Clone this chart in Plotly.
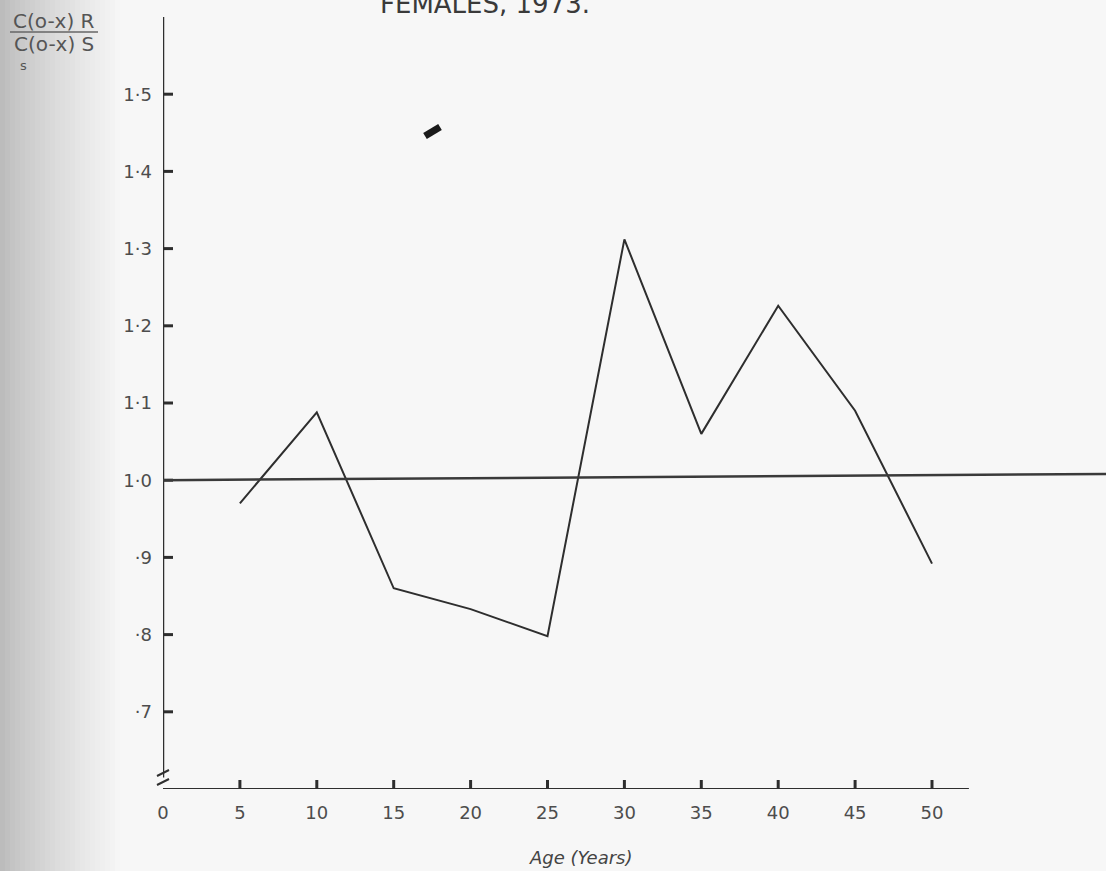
import plotly.graph_objects as go

# ---- data ----
ages = [5, 10, 15, 20, 25, 30, 35, 40, 45, 50]
ratio = [0.970, 1.088, 0.860, 0.833, 0.798, 1.312, 1.060, 1.226, 1.090, 0.892]

x_ticks = [0, 5, 10, 15, 20, 25, 30, 35, 40, 45, 50]
x_tick_labels = ["0", "5", "10", "15", "20", "25", "30", "35", "40", "45", "50"]
y_ticks = [0.7, 0.8, 0.9, 1.0, 1.1, 1.2, 1.3, 1.4, 1.5]
y_tick_labels = ["·7", "·8", "·9", "1·0", "1·1", "1·2", "1·3", "1·4", "1·5"]

reference_level = 1.0

W, H = 1106, 871
L, R, T, B = 163, 0, 17, 82
PW, PH = W - L - R, H - T - B
X_MAX = PW / (769 / 50)
Y_MIN, Y_MAX = 0.6, 1.6

def px(xp):
    return (xp - L) / PW

def py(yp):
    return (H - B - yp) / PH

INK = "#2e2e2e"
TXT = "#4d4d4d"
FONT = "DejaVu Sans"

fig = go.Figure()

# tick marks (inside-pointing), drawn from the tick arrays through the axes
xt_len = 9 / PH * (Y_MAX - Y_MIN)
yt_len = 10 / PW * X_MAX
tx, ty = [], []
for v in x_ticks[1:]:
    tx += [v, v, None]
    ty += [Y_MIN, Y_MIN + xt_len, None]
for v in y_ticks:
    tx += [0, yt_len, None]
    ty += [v, v, None]
fig.add_trace(go.Scatter(x=tx, y=ty, mode="lines", line=dict(color=INK, width=3),
                         connectgaps=False, showlegend=False, hoverinfo="skip",
                         cliponaxis=False))

fig.add_trace(go.Scatter(
    x=ages, y=ratio, mode="lines",
    line=dict(color=INK, width=2),
    showlegend=False, hoverinfo="skip",
))

shapes = []
# left scanner shading
n = 24
for i in range(n):
    x0 = i * 5
    g = int(188 + (246 - 188) * (i / (n - 1)) ** 0.8)
    shapes.append(dict(type="rect", xref="paper", yref="paper",
                       x0=px(x0), x1=px(x0 + 5), y0=py(H), y1=py(0),
                       fillcolor=f"rgb({g},{g},{g})", line=dict(width=0), layer="below"))

# y axis line (with break at the bottom)
shapes.append(dict(type="line", xref="x", yref="y", x0=0, x1=0, y0=Y_MAX, y1=0.615,
                   line=dict(color=INK, width=2.5)))
# break marks
shapes.append(dict(type="line", xref="paper", yref="paper",
                   x0=px(157), x1=px(169), y0=py(776), y1=py(770),
                   line=dict(color=INK, width=2)))
shapes.append(dict(type="line", xref="paper", yref="paper",
                   x0=px(157), x1=px(169), y0=py(785), y1=py(779),
                   line=dict(color=INK, width=2)))
# x axis line
shapes.append(dict(type="line", xref="x", yref="y", x0=0, x1=52.4, y0=Y_MIN, y1=Y_MIN,
                   line=dict(color=INK, width=2)))
# reference line at 1.0
shapes.append(dict(type="line", xref="x", yref="y", x0=0, x1=X_MAX,
                   y0=reference_level, y1=reference_level + 0.008,
                   line=dict(color="#3a3a3a", width=2.5)))
# fraction bar of y label
shapes.append(dict(type="line", xref="paper", yref="paper",
                   x0=px(10), x1=px(98), y0=py(32), y1=py(32),
                   line=dict(color="#666666", width=1.5)))
# ink blot
shapes.append(dict(type="line", xref="paper", yref="paper",
                   x0=px(425), x1=px(440), y0=py(136), y1=py(127),
                   line=dict(color="#1a1a1a", width=7)))

annotations = [
    dict(text="FEMALES, 1973.", xref="paper", yref="paper", x=px(485), y=py(4),
         showarrow=False, xanchor="center", yanchor="middle",
         font=dict(family=FONT, size=26, color="#3a3a3a")),
    dict(text="C(o-x) R", xref="paper", yref="paper", x=px(54), y=py(21),
         showarrow=False, xanchor="center", yanchor="middle",
         font=dict(family=FONT, size=20, color="#555555")),
    dict(text="C(o-x) S", xref="paper", yref="paper", x=px(54), y=py(44),
         showarrow=False, xanchor="center", yanchor="middle",
         font=dict(family=FONT, size=20, color="#555555")),
    dict(text="s", xref="paper", yref="paper", x=px(23), y=py(65),
         showarrow=False, xanchor="center", yanchor="middle",
         font=dict(family=FONT, size=13, color="#555555")),
    dict(text="<i>Age (Years)</i>", xref="paper", yref="paper", x=px(580), y=py(857),
         showarrow=False, xanchor="center", yanchor="middle",
         font=dict(family=FONT, size=18, color="#444444")),
]

fig.update_layout(
    width=W, height=H,
    margin=dict(l=L, r=R, t=T, b=B, pad=0),
    paper_bgcolor="#f7f7f7", plot_bgcolor="rgba(0,0,0,0)",
    shapes=shapes, annotations=annotations,
    showlegend=False,
    xaxis=dict(range=[0, X_MAX], showgrid=False, zeroline=False, showline=False,
               tickmode="array", tickvals=x_ticks, ticktext=x_tick_labels,
               ticks="", ticklabelstandoff=11,
               tickfont=dict(family=FONT, size=18, color=TXT), fixedrange=True),
    yaxis=dict(range=[Y_MIN, Y_MAX], showgrid=False, zeroline=False, showline=False,
               tickmode="array", tickvals=y_ticks, ticktext=y_tick_labels,
               ticks="", ticklabelstandoff=10,
               tickfont=dict(family=FONT, size=18, color=TXT), fixedrange=True),
)

fig.write_html("out.html", config={"displayModeBar": False},
               post_script="document.body.style.margin='0';")
